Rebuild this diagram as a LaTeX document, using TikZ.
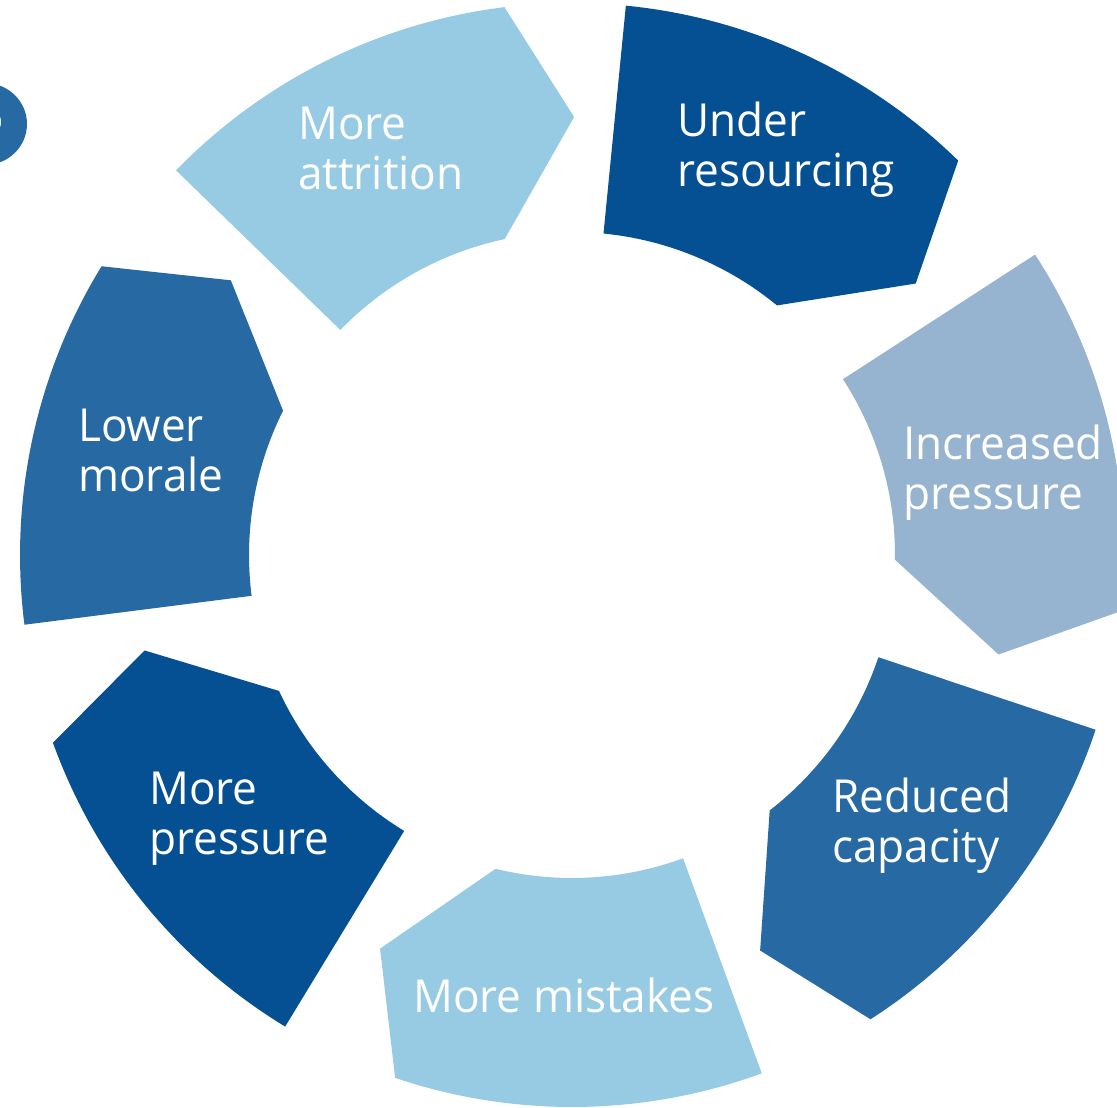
\documentclass[tikz,border=0pt]{standalone}
\usepackage{fontspec}
\setmainfont{Open Sans}[FakeStretch=0.97]
\definecolor{darkblue}{HTML}{055093}
\definecolor{midblue}{HTML}{2769A2}
\definecolor{lightblue}{HTML}{96CBE3}
\definecolor{greyblue}{HTML}{96B3D0}
% One block of the cycle: trailing edge at angle #1, pointed leading end clockwise
\newcommand\ringseg[2]{%
  \fill[#2] ([shift={(c)}]#1:552) arc[start angle=#1, end angle=#1-38.8, radius=552]
    -- ([shift={(c)}]#1-46.1:438)
    -- ([shift={(c)}]#1-33.8:323) arc[start angle=#1-33.8, end angle=#1, radius=323]
    -- cycle;}
\newcommand\twolines[2]{\vtop{\baselineskip=50pt\hbox{#1}\hbox{#2}}}
\begin{document}
\begin{tikzpicture}[x=1pt,y=1pt,
  lbl/.style={anchor=base west, inner sep=0pt, text=white,
    font=\fontsize{45.5}{50}\selectfont}]
\useasboundingbox (0,0) rectangle (1117,1108);
\clip (0,0) rectangle (1117,1108);
\coordinate (c) at (572,553);

% partial heading glyph at the left edge
\fill[midblue, even odd rule] (-15,984) ellipse[x radius=42, y radius=41]
  (-15,986) ellipse[x radius=16, y radius=17];

% the seven blocks, clockwise
\ringseg{84.4}{darkblue}
\ringseg{32.97}{greyblue}
\ringseg{-18.46}{midblue}
\ringseg{-69.89}{lightblue}
\ringseg{-121.31}{darkblue}
\ringseg{-172.74}{midblue}
\ringseg{-224.17}{lightblue}

% labels
\node[lbl] (under) at (677,971.3) {\twolines{Under}{resourcing}};
\node[lbl] (incr) at (903,648) {\twolines{Increased}{pressure}};
\node[lbl] (reduced) at (832,295.3) {\twolines{Reduced}{capacity}};
\node[lbl] (mistakes) at (413,95.3) {More mistakes};
\node[lbl] (morepress) at (149,303) {\twolines{More}{pressure}};
\node[lbl] (morale) at (78,666.3) {\twolines{Lower}{morale}};
\node[lbl] (attrition) at (298,968) {\twolines{More}{attrition}};
\end{tikzpicture}
\end{document}
